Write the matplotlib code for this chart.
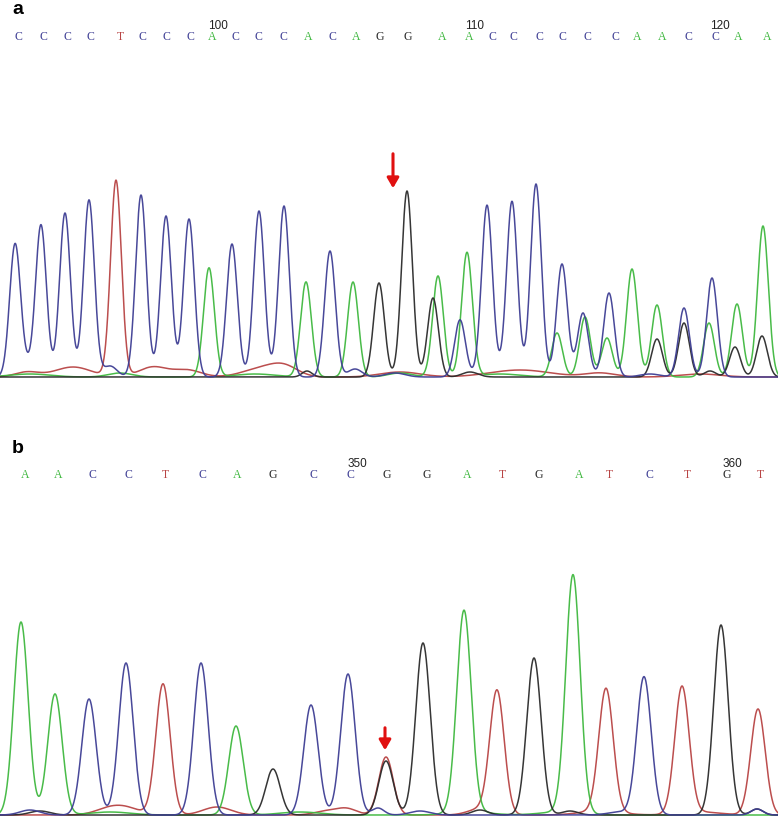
import numpy as np
import matplotlib
matplotlib.use("Agg")
import matplotlib.pyplot as plt

# colours of the four dye traces
COLORS = {"A": "#3fb83f", "C": "#3e3e94", "G": "#2b2b2b", "T": "#b84444"}

# ---------------- panel a ----------------
a_calls = list("CCCCTCCCACCCACAGGAACCCCCCAACCAA")
a_call_x = [18, 43, 67, 90, 120, 142, 166, 190, 212, 235, 258, 283, 308, 332,
            356, 380, 408, 442, 469, 492, 513, 539, 562, 587, 615, 637, 662,
            688, 715, 738, 767]
a_numbers = ["100", "110", "120"]
a_number_x = [218, 475, 720]

# main peaks (position, height) per dye
a_peaks = {
    "C": ([15, 41, 65, 89, 141, 166, 189, 232, 259, 284, 330, 460, 487, 512,
           536, 562, 583, 609, 684, 712],
          [129, 151, 164, 177, 182, 161, 158, 133, 166, 171, 126, 57, 168, 175,
           193, 113, 64, 84, 69, 99]),
    "T": ([116], [196]),
    "A": ([209, 306, 353, 438, 467, 557, 585, 607, 632, 657, 709, 737, 763],
          [109, 95, 95, 101, 124, 44, 60, 39, 108, 72, 54, 73, 151]),
    "G": ([379, 407, 433, 657, 684, 735, 762],
          [94, 186, 79, 38, 54, 30, 41]),
}
# low background bumps (position, height, width)
a_noise = {
    "T": ([27, 73, 153, 187, 260, 284, 400, 520, 600, 700],
          [5, 10, 10, 7, 8, 10, 5, 7, 4, 3], [12, 18, 14, 14, 18, 14, 20, 30, 15, 20]),
    "C": ([25, 110, 355, 395, 490, 650],
          [10, 11, 8, 4, 4, 3], [8, 7, 7, 10, 12, 10]),
    "A": ([30, 120, 255, 400, 500],
          [3, 4, 3, 4, 3], [20, 12, 20, 12, 20]),
    "G": ([307, 470, 710],
          [6, 5, 6], [5, 8, 6]),
}
a_arrow_x = 393

# ---------------- panel b ----------------
b_calls = list("AACCTCAGCCGGATGATCTGT")
b_call_x = [25, 58, 92, 128, 165, 202, 237, 273, 313, 350, 387, 427, 467,
            502, 539, 579, 609, 649, 687, 727, 760]
b_numbers = ["350", "360"]
b_number_x = [357, 732]

b_peaks = {
    "A": ([21, 55, 236, 464, 573], [193, 121, 89, 202, 238]),
    "C": ([89, 126, 201, 311, 348, 644], [116, 152, 152, 110, 141, 138]),
    "T": ([163, 386, 497, 606, 682, 758], [131, 58, 123, 123, 127, 106]),
    "G": ([273, 386, 423, 534, 721], [46, 54, 172, 157, 190]),
}
b_noise = {
    "T": ([109, 127, 217, 327, 347, 480, 600, 700],
          [6, 6, 8, 4, 6, 6, 4, 3], [14, 14, 14, 12, 10, 12, 20, 20]),
    "C": ([30, 378, 420, 620, 757], [5, 7, 4, 3, 6], [10, 6, 10, 12, 6]),
    "A": ([110, 300, 470, 560], [3, 3, 3, 3], [20, 20, 20, 20]),
    "G": ([40, 480, 570, 757], [4, 5, 4, 6], [10, 8, 8, 6]),
}
b_arrow_x = 385


def trace(x, peaks, noise, sigma):
    y = np.zeros_like(x)
    for p, h in zip(*peaks):
        y += h * np.exp(-0.5 * ((x - p) / sigma) ** 2)
    if noise is not None:
        for p, h, w in zip(*noise):
            y += h * np.exp(-0.5 * ((x - p) / w) ** 2)
    return y


def draw_panel(ax, label, calls, call_x, numbers, number_x, peaks, noise,
               sigma, arrow_x, arrow_top, arrow_tip, ytop):
    x = np.linspace(0, 778, 3000)
    for base in ["T", "A", "G", "C"]:
        pk = peaks.get(base, ([], []))
        y = trace(x, pk, noise.get(base), sigma)
        ax.plot(x, y, color=COLORS[base], lw=1.1, alpha=0.95)
    for b, bx in zip(calls, call_x):
        ax.text(bx, 340, b, color=COLORS[b], fontsize=8.5,
                family="Liberation Serif", ha="center", va="center")
    for n, nx in zip(numbers, number_x):
        ax.text(nx, 351, n, color="#222222", fontsize=8.5,
                family="Liberation Sans", ha="center", va="center")
    ax.text(12, ytop - 9, label, fontsize=14, fontweight="bold",
            family="Liberation Sans", ha="left", va="center")
    ax.annotate("", xy=(arrow_x, arrow_tip), xytext=(arrow_x, arrow_top),
                arrowprops=dict(arrowstyle="-|>,head_width=0.35,head_length=0.6",
                                color="#e01010", lw=2.2))
    ax.set_xlim(0, 778)
    ax.axis("off")


fig = plt.figure(figsize=(7.78, 8.22), dpi=100)
ax_a = fig.add_axes([0, 442 / 822, 1, 380 / 822])
ax_a.set_ylim(-3, 377)
draw_panel(ax_a, "a", a_calls, a_call_x, a_numbers, a_number_x, a_peaks,
           a_noise, 5.4, a_arrow_x, 226, 186, 377)

ax_b = fig.add_axes([0, 0, 1, 412 / 822])
ax_b.set_ylim(-7, 405)
draw_panel(ax_b, "b", b_calls, b_call_x, b_numbers, b_number_x, b_peaks,
           b_noise, 7.2, b_arrow_x, 90, 62, 376)

fig.savefig("out.png", dpi=100)
